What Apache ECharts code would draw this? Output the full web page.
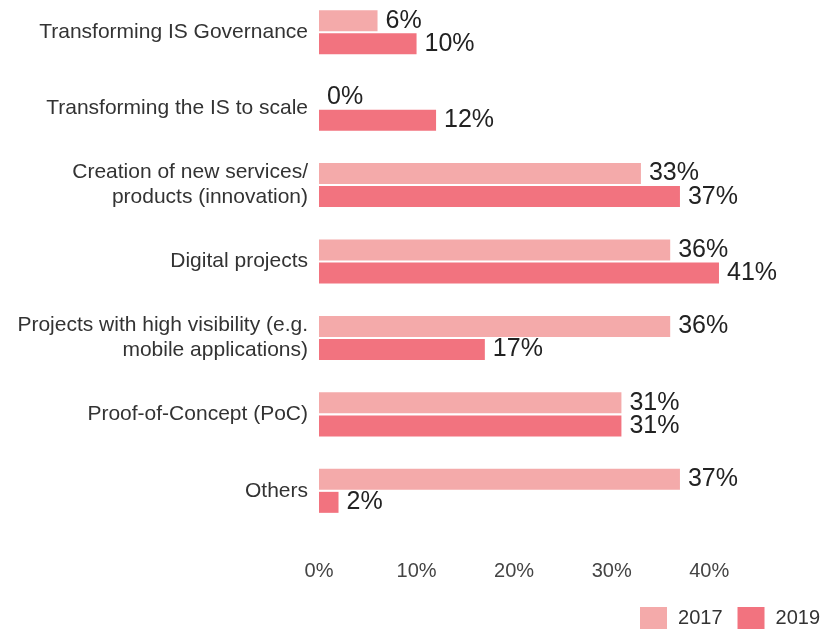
<!DOCTYPE html>
<html>
<head>
<meta charset="utf-8">
<title>IS priorities 2017 vs 2019</title>
<script src="https://cdn.jsdelivr.net/npm/echarts@6/dist/echarts.min.js"></script>
<style>
  html, body { margin: 0; padding: 0; background: #fff; }
  #chart { width: 827px; height: 630px; }
</style>
</head>
<body>
<div id="chart"></div>
<script>
// categories, top to bottom
const categories = [
  "Transforming IS Governance",
  "Transforming the IS to scale",
  "Creation of new services/\nproducts (innovation)",
  "Digital projects",
  "Projects with high visibility (e.g.\nmobile applications)",
  "Proof-of-Concept (PoC)",
  "Others"
];
const years = ["2017", "2019"];
const values2017 = [6, 0, 33, 36, 36, 31, 37];
const values2019 = [10, 12, 37, 41, 17, 31, 2];
const xTicks = [0, 10, 20, 30, 40];

const colors = ["#f4aaaa", "#f2737f"];
const font = "'Liberation Sans', Arial, sans-serif";

const chart = echarts.init(document.getElementById("chart"));

const makeSeries = (name, data, color) => ({
  name: name,
  type: "bar",
  data: data,
  barWidth: 21,
  barGap: "10%",
  itemStyle: { color: color },
  label: {
    show: true,
    position: "right",
    distance: 8,
    formatter: "{c}%",
    fontFamily: font,
    fontSize: 25,
    color: "#222"
  }
});

chart.setOption({
  animation: false,
  textStyle: { fontFamily: font },
  grid: {
    left: 319,
    top: -6,
    width: 439,
    height: 535,
    outerBoundsMode: "none",
    containLabel: false
  },
  xAxis: {
    type: "value",
    min: 0,
    max: 45,
    interval: 10,
    splitLine: { show: false },
    axisLine: { show: false },
    axisTick: { show: false },
    axisLabel: {
      margin: 32,
      fontFamily: font,
      fontSize: 20,
      color: "#444",
      formatter: (v) => (xTicks.indexOf(v) >= 0 ? v + "%" : "")
    }
  },
  yAxis: {
    type: "category",
    data: categories,
    inverse: true,
    axisLine: { show: false },
    axisTick: { show: false },
    axisLabel: {
      margin: 11,
      fontFamily: font,
      fontSize: 21,
      lineHeight: 25,
      color: "#333",
      align: "right"
    }
  },
  legend: {
    data: years,
    right: 2,
    bottom: -4,
    itemWidth: 27,
    itemHeight: 22,
    itemGap: 15,
    icon: "rect",
    textStyle: {
      fontFamily: font,
      fontSize: 20,
      color: "#333",
      padding: [0, 0, 0, 6]
    }
  },
  series: [
    makeSeries(years[0], values2017, colors[0]),
    makeSeries(years[1], values2019, colors[1])
  ]
});
</script>
</body>
</html>
